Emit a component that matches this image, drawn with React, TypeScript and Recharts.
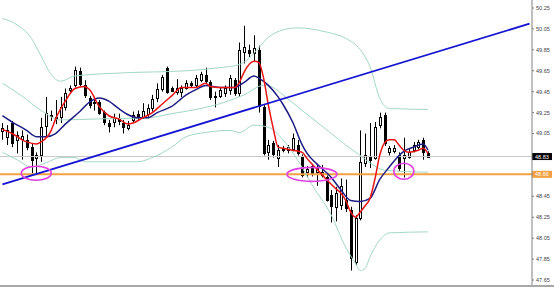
import {
  ComposedChart,
  Bar,
  Line,
  XAxis,
  YAxis,
  ReferenceLine,
  ReferenceDot,
} from 'recharts';

// candles, oldest first (chart has empty space on the right for the shift)
const opens = [
  49.07, 49.02, 49.15, 48.99, 49.0, 48.99, 48.92, 48.82, 48.84, 49.12,
  49.23, 49.21, 49.21, 49.3, 49.47, 49.51, 49.65, 49.51, 49.39, 49.34,
  49.35, 49.26, 49.15, 49.16, 49.2, 49.15, 49.1, 49.18, 49.24, 49.21,
  49.24, 49.29, 49.39, 49.48, 49.68, 49.49, 49.45, 49.45, 49.49, 49.53,
  49.51, 49.56, 49.61, 49.54, 49.4, 49.41, 49.44, 49.47, 49.56, 49.44,
  49.83, 49.85, 49.82, 49.85, 49.3, 48.87, 48.96, 48.82, 48.89, 48.89,
  48.9, 48.94, 48.83, 48.68, 48.74, 48.68, 48.65, 48.63, 48.46, 48.35,
  48.37, 48.41, 48.32, 47.82, 48.24, 48.77, 48.83, 48.82, 49.13, 49.23,
  48.87, 48.88, 48.84, 48.82, 48.83, 48.89, 48.92, 48.99, 48.86,
];
const highs = [
  49.15, 49.13, 49.17, 49.07, 49.08, 49.04, 48.95, 48.87, 49.2, 49.4,
  49.27, 49.37, 49.4, 49.48, 49.51, 49.69, 49.68, 49.56, 49.41, 49.39,
  49.37, 49.27, 49.18, 49.24, 49.24, 49.18, 49.17, 49.26, 49.27, 49.34,
  49.33, 49.42, 49.53, 49.61, 49.69, 49.5, 49.57, 49.51, 49.56, 49.55,
  49.61, 49.64, 49.68, 49.56, 49.45, 49.49, 49.51, 49.61, 49.58, 49.92,
  50.08, 49.9, 49.99, 49.89, 49.33, 48.99, 48.98, 48.94, 48.93, 48.94,
  49.05, 48.99, 48.85, 48.74, 48.76, 48.75, 48.75, 48.65, 48.51, 48.54,
  48.62, 48.61, 48.35, 48.27, 49.08, 49.05, 49.15, 49.16, 49.25, 49.25,
  48.93, 48.94, 48.87, 49.01, 48.9, 48.97, 48.99, 49.01, 48.88,
];
const lows = [
  48.99, 48.94, 48.92, 48.86, 48.8, 48.89, 48.67, 48.67, 48.78, 49.02,
  49.17, 49.14, 49.15, 49.27, 49.43, 49.49, 49.5, 49.39, 49.29, 49.27,
  49.23, 49.13, 49.06, 49.11, 49.13, 49.05, 49.08, 49.15, 49.18, 49.19,
  49.21, 49.26, 49.35, 49.45, 49.43, 49.45, 49.42, 49.4, 49.47, 49.49,
  49.49, 49.54, 49.53, 49.37, 49.3, 49.39, 49.4, 49.42, 49.41, 49.4,
  49.72, 49.78, 49.74, 49.25, 48.84, 48.8, 48.82, 48.73, 48.87, 48.86,
  48.88, 48.84, 48.63, 48.63, 48.64, 48.55, 48.63, 48.4, 48.2, 48.21,
  48.32, 48.3, 47.74, 47.79, 48.22, 48.73, 48.72, 48.8, 49.1, 48.93,
  48.84, 48.86, 48.69, 48.63, 48.81, 48.87, 48.9, 48.8, 48.82,
];
const closes = [
  49.1, 49.08, 48.96, 49.04, 49.03, 48.92, 48.8, 48.84, 49.11, 49.25,
  49.22, 49.19, 49.3, 49.44, 49.49, 49.66, 49.52, 49.42, 49.32, 49.35,
  49.25, 49.16, 49.12, 49.2, 49.17, 49.11, 49.13, 49.23, 49.21, 49.27,
  49.29, 49.38, 49.48, 49.59, 49.45, 49.46, 49.49, 49.49, 49.53, 49.51,
  49.58, 49.62, 49.55, 49.4, 49.41, 49.47, 49.49, 49.58, 49.44, 49.85,
  49.88, 49.82, 49.87, 49.31, 48.86, 48.94, 48.85, 48.89, 48.9, 48.92,
  49.01, 48.86, 48.65, 48.71, 48.67, 48.72, 48.68, 48.41, 48.36, 48.48,
  48.55, 48.34, 47.86, 48.24, 48.78, 48.84, 48.8, 49.11, 49.21, 48.96,
  48.91, 48.91, 48.72, 48.84, 48.87, 48.94, 48.97, 48.87, 48.83,
];

// indicator lines as [candle index, price]
const fastMa: [number, number][] = [
  [0, 49.09], [2, 49.05], [5, 48.97], [7, 48.95], [8, 48.97], [10, 49.07], [11, 49.19],
  [13, 49.36], [15, 49.48], [17, 49.5], [18, 49.47], [20, 49.31], [22, 49.22], [24, 49.19],
  [26, 49.14], [27, 49.15], [29, 49.2], [31, 49.25], [33, 49.33], [35, 49.41], [37, 49.49],
  [40, 49.49], [42, 49.53], [43, 49.5], [45, 49.49], [48, 49.49], [49, 49.54], [50, 49.64],
  [52, 49.74], [53, 49.73], [54, 49.58], [55, 49.32], [56, 49.1], [57, 48.92], [58, 48.91],
  [60, 48.89], [62, 48.87], [63, 48.81], [65, 48.71], [67, 48.61], [69, 48.52], [70, 48.48],
  [71, 48.41], [72, 48.3], [73, 48.25], [74, 48.3], [75, 48.36], [76, 48.43], [77, 48.61],
  [78, 48.84], [79, 48.96], [80, 48.99], [81, 48.99], [82, 48.94], [83, 48.89], [84, 48.87],
  [86, 48.89], [87, 48.91], [88, 48.86],
];
const slowMa: [number, number][] = [
  [0, 49.22], [2, 49.16], [5, 49.08], [7, 49.02], [9, 49.02], [11, 49.05], [13, 49.14],
  [16, 49.26], [18, 49.35], [20, 49.39], [22, 49.36], [24, 49.29], [26, 49.23], [28, 49.2],
  [30, 49.2], [32, 49.25], [35, 49.31], [38, 49.42], [40, 49.47], [42, 49.51], [45, 49.49],
  [48, 49.49], [50, 49.54], [52, 49.6], [53, 49.58], [55, 49.51], [57, 49.4], [58, 49.33],
  [60, 49.16], [62, 48.94], [63, 48.86], [65, 48.76], [68, 48.63], [70, 48.51], [72, 48.41],
  [74, 48.4], [76, 48.43], [78, 48.61], [80, 48.73], [82, 48.84], [83, 48.88], [85, 48.92],
  [87, 48.95], [88, 48.89],
];
const bandUpper: [number, number][] = [
  [0, 50.15], [3, 50.09], [6, 49.96], [8, 49.79], [10, 49.62], [12, 49.55], [15, 49.6],
  [25, 49.63], [38, 49.65], [45, 49.68], [49, 49.71], [51, 49.77], [53, 49.87], [55, 49.97],
  [58, 50.04], [61, 50.06], [67, 50.02], [71, 49.96], [74, 49.85], [76, 49.69], [78, 49.39],
  [80, 49.29], [88, 49.28],
];
const bandMiddle: [number, number][] = [
  [0, 49.53], [4, 49.41], [8, 49.27], [12, 49.18], [20, 49.19], [30, 49.2], [35, 49.24],
  [40, 49.28], [46, 49.35], [50, 49.42], [54, 49.51], [56, 49.49], [58, 49.42], [62, 49.27],
  [65, 49.16], [68, 49.05], [71, 48.94], [74, 48.84], [76, 48.77], [79, 48.7], [88, 48.68],
];
const bandLower: [number, number][] = [
  [0, 48.87], [3, 48.8], [6, 48.73], [9, 48.77], [12, 48.82], [15, 48.82], [17, 48.78],
  [28, 48.78], [31, 48.82], [35, 48.92], [38, 49.02], [42, 49.06], [47, 49.08], [49, 49.06],
  [52, 49.13], [55, 49.11], [58, 48.99], [61, 48.8], [64, 48.56], [68, 48.27], [71, 47.96],
  [73, 47.81], [74, 47.74], [75, 47.76], [76, 47.87], [78, 48.03], [80, 48.1], [88, 48.11],
];

const yTicks = [47.65, 47.85, 48.05, 48.25, 48.45, 49.05, 49.25, 49.45, 49.65, 49.85, 50.05, 50.25];
const bidPrice = 48.83;
const supportLevel = 48.66;
const trendStart = 48.565; // at slot 0
const trendEnd = 50.1; // at the last slot
const circled = [
  { i: 7, price: 48.67 },
  { i: 64, price: 48.66 },
  { i: 83, price: 48.69 },
];

const SLOTS = 110;

const toMap = (pts: [number, number][]) => new Map(pts.map(([i, v]) => [i, v]));
const fastMap = toMap(fastMa);
const slowMap = toMap(slowMa);
const upMap = toMap(bandUpper);
const midMap = toMap(bandMiddle);
const lowMap = toMap(bandLower);

const rows = Array.from({ length: SLOTS }, (_, i) => {
  const has = i < closes.length;
  return {
    i,
    open: has ? opens[i] : null,
    high: has ? highs[i] : null,
    low: has ? lows[i] : null,
    close: has ? closes[i] : null,
    range: has ? [lows[i], highs[i]] : null,
    fast: fastMap.get(i) ?? null,
    slow: slowMap.get(i) ?? null,
    upper: upMap.get(i) ?? null,
    middle: midMap.get(i) ?? null,
    lower: lowMap.get(i) ?? null,
  };
});

function Candle(props: any) {
  const { x, y, width, height, payload } = props;
  if (!payload || payload.open == null || height == null) return null;
  const { open, close, high, low } = payload;
  const top = Math.min(y, y + height);
  const h = Math.abs(height);
  const k = high - low > 0 ? h / (high - low) : 0;
  const py = (v: number) => top + (high - v) * k;
  const cx = Math.round(x + width / 2);
  const bTop = Math.round(py(Math.max(open, close)));
  const bBot = Math.round(py(Math.min(open, close)));
  const up = close >= open;
  return (
    <g>
      <line x1={cx + 0.5} x2={cx + 0.5} y1={top} y2={top + h} stroke="#000" strokeWidth={1} />
      <rect
        x={cx - 0.5}
        y={bTop + 0.5}
        width={2}
        height={Math.max(bBot - bTop, 1)}
        fill={up ? '#fff' : '#000'}
        stroke="#000"
        strokeWidth={1}
      />
    </g>
  );
}

const priceTag = (text: string, bg: string) => (props: any) => {
  const vb = props.viewBox;
  if (!vb) return null;
  const x = vb.x + vb.width;
  const y = vb.y;
  return (
    <g>
      <rect x={x} y={y - 3.5} width={20} height={7} fill={bg} />
      <text x={x + 3} y={y + 2} fontSize={5.5} fill="#fff" fontFamily="Liberation Sans">
        {text}
      </text>
    </g>
  );
};

const ellipseSize = [
  { rx: 15, ry: 7 },
  { rx: 25, ry: 7 },
  { rx: 10, ry: 8 },
];

export default function App() {
  return (
    <div style={{ position: 'fixed', left: 0, top: 0, width: 554, height: 287, background: '#fff' }}>
      <ComposedChart width={554} height={285} data={rows} margin={{ top: 0, right: 0, bottom: 0, left: 0 }}>
        <XAxis dataKey="i" hide />
        <YAxis
          orientation="right"
          width={22}
          domain={[47.602, 50.3265]}
          allowDataOverflow
          ticks={yTicks}
          interval={0}
          tickFormatter={(v: number) => v.toFixed(2)}
          tick={{ fontSize: 5.5, fill: '#444', fontFamily: 'Liberation Sans' }}
          tickSize={2}
          tickMargin={2}
          axisLine={{ stroke: '#808080' }}
          tickLine={{ stroke: '#808080' }}
        />
        <ReferenceLine y={bidPrice} stroke="#c8c8c8" label={priceTag(bidPrice.toFixed(2), '#000')} />
        <ReferenceLine
          y={supportLevel}
          stroke="#f5a043"
          strokeWidth={2}
          label={priceTag(supportLevel.toFixed(2), '#f5a043')}
        />
        <Line dataKey="upper" type="monotone" stroke="#a3d8c4" strokeWidth={1} dot={false} activeDot={false} connectNulls isAnimationActive={false} />
        <Line dataKey="middle" type="monotone" stroke="#a3d8c4" strokeWidth={1} dot={false} activeDot={false} connectNulls isAnimationActive={false} />
        <Line dataKey="lower" type="monotone" stroke="#a3d8c4" strokeWidth={1} dot={false} activeDot={false} connectNulls isAnimationActive={false} />
        <Bar dataKey="range" shape={<Candle />} isAnimationActive={false} />
        <Line dataKey="slow" type="monotone" stroke="#1c1c82" strokeWidth={1.5} dot={false} activeDot={false} connectNulls isAnimationActive={false} />
        <Line dataKey="fast" type="monotone" stroke="#e81414" strokeWidth={1.5} dot={false} activeDot={false} connectNulls isAnimationActive={false} />
        <ReferenceLine
          segment={[
            { x: 0, y: trendStart },
            { x: SLOTS - 1, y: trendEnd },
          ]}
          stroke="#1414d2"
          strokeWidth={1.8}
        />
        {circled.map((c, k) => (
          <ReferenceDot
            key={k}
            x={c.i}
            y={c.price}
            r={1}
            shape={(p: any) => (
              <ellipse
                cx={p.cx}
                cy={p.cy}
                rx={ellipseSize[k].rx}
                ry={ellipseSize[k].ry}
                fill="none"
                stroke="#e040e0"
                strokeWidth={1.6}
              />
            )}
          />
        ))}
      </ComposedChart>
      <div style={{ height: 2, background: '#a8a8a8' }} />
    </div>
  );
}
